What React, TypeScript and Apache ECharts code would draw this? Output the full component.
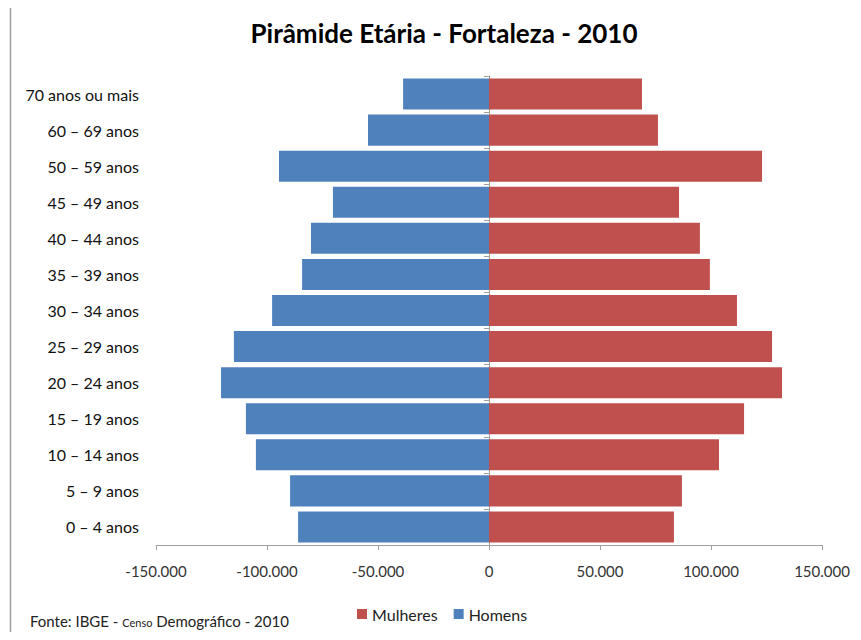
import React, { useEffect, useRef } from "react";
import * as echarts from "echarts";

const categories = [
  "0 – 4 anos",
  "5 – 9 anos",
  "10 – 14 anos",
  "15 – 19 anos",
  "20 – 24 anos",
  "25 – 29 anos",
  "30 – 34 anos",
  "35 – 39 anos",
  "40 – 44 anos",
  "45 – 49 anos",
  "50 – 59 anos",
  "60 – 69 anos",
  "70 anos ou mais",
];

const homens = [-86000, -89600, -105000, -109500, -120700, -114900, -97700, -84200, -80200, -70300, -94600, -54500, -38700];
const mulheres = [83300, 86900, 103600, 114900, 132000, 127500, 111700, 99500, 95000, 85600, 123000, 76100, 68900];

const FONT = "Lato, 'Noto Sans', sans-serif";

function fmt(v: number): string {
  const s = Math.abs(v).toString().replace(/\B(?=(\d{3})+(?!\d))/g, ".");
  return (v < 0 ? "-" : "") + s;
}

export default function App() {
  const ref = useRef<HTMLDivElement>(null);
  useEffect(() => {
    if (!ref.current) return;
    const chart = echarts.init(ref.current, null, { renderer: "svg" });
    chart.setOption({
      animation: false,
      backgroundColor: "#ffffff",
      title: {
        text: "Pirâmide Etária - Fortaleza - 2010",
        left: 439,
        textAlign: "center",
        top: 15,
        textStyle: { fontFamily: FONT, fontSize: 26, fontWeight: "bold", color: "#000" },
      },
      legend: {
        data: ["Mulheres", "Homens"],
        left: 352,
        top: 601,
        icon: "rect",
        itemWidth: 10,
        itemHeight: 10,
        itemGap: 16,
        textStyle: { fontFamily: FONT, fontSize: 16, color: "#222" },
      },
      grid: { left: 156, right: 39, top: 76, bottom: 95, containLabel: false },
      xAxis: {
        type: "value",
        min: -150000,
        max: 150000,
        interval: 50000,
        axisLine: { show: true, lineStyle: { color: "#a0a0a0" } },
        axisTick: { show: true, length: 5, lineStyle: { color: "#a0a0a0" } },
        splitLine: { show: false },
        axisLabel: {
          formatter: (v: number) => fmt(v),
          fontFamily: FONT,
          fontSize: 15,
          color: "#333",
          margin: 18,
        },
      },
      yAxis: [
        {
          type: "category",
          data: categories,
          axisLine: { show: false, onZero: false },
          axisTick: { show: false },
          axisLabel: { fontFamily: FONT, fontSize: 16, color: "#111", margin: 17 },
        },
        {
          type: "category",
          data: categories,
          position: "left",
          axisLine: { show: true, onZero: true, lineStyle: { color: "#a0a0a0" } },
          axisTick: { show: true, length: 5, lineStyle: { color: "#a0a0a0" } },
          axisLabel: { show: false },
        },
      ],
      series: [
        {
          name: "Homens",
          type: "bar",
          data: homens,
          barGap: "-100%",
          barCategoryGap: "14%",
          itemStyle: { color: "#4F81BD" },
        },
        {
          name: "Mulheres",
          type: "bar",
          data: mulheres,
          barGap: "-100%",
          barCategoryGap: "14%",
          itemStyle: { color: "#C0504D" },
        },
      ],
      graphic: [
        {
          type: "line",
          shape: { x1: 10.5, y1: 0, x2: 10.5, y2: 640 },
          style: { stroke: "#a0a0a0", lineWidth: 1.5 },
        },
        {
          type: "text",
          left: 30,
          top: 613,
          style: {
            text: "{a|Fonte: IBGE - }{b|Censo}{a| Demográfico - 2010}",
            rich: {
              a: { fontFamily: FONT, fontSize: 15, fill: "#222", verticalAlign: "bottom" },
              b: { fontFamily: FONT, fontSize: 11, fill: "#222", verticalAlign: "bottom" },
            },
          },
        },
      ],
    });
    return () => chart.dispose();
  }, []);
  return <div ref={ref} style={{ width: 861, height: 640, margin: -8 }} />;
}
